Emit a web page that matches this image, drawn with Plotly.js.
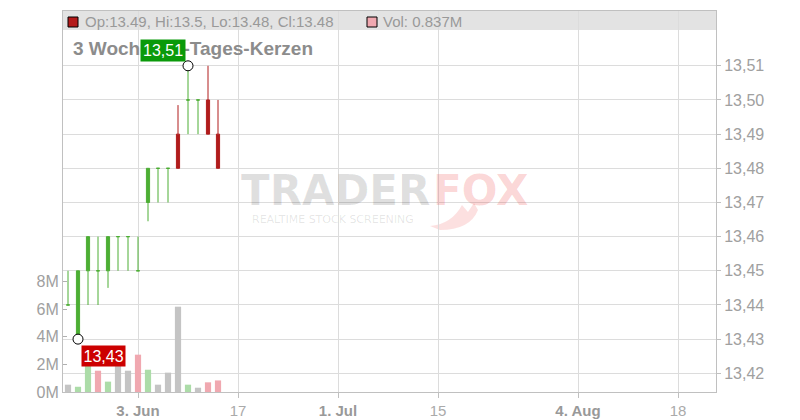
<!DOCTYPE html>
<html><head><meta charset="utf-8">
<script src="https://cdn.plot.ly/plotly-3.0.1.min.js"></script>
<style>html,body{margin:0;padding:0;background:#fff}#chart{width:800px;height:420px}</style>
</head><body><div id="chart"></div>
<script>
// ---- data ----
const dates = ['2025-05-23','2025-05-26','2025-05-27','2025-05-28','2025-05-29','2025-05-30',
               '2025-06-02','2025-06-03','2025-06-04','2025-06-05','2025-06-06',
               '2025-06-09','2025-06-10','2025-06-11','2025-06-12','2025-06-13'];
const openP  = [13.44,13.43,13.45,13.45,13.45,13.46,13.46,13.45,13.47,13.48,13.48,13.49,13.50,13.50,13.50,13.49];
const highP  = [13.45,13.45,13.46,13.46,13.46,13.46,13.46,13.46,13.48,13.48,13.48,13.4985,13.51,13.50,13.51,13.50];
const lowP   = [13.44,13.43,13.44,13.44,13.445,13.45,13.45,13.45,13.4645,13.47,13.47,13.48,13.49,13.49,13.49,13.48];
const closeP = [13.44,13.45,13.46,13.45,13.46,13.46,13.46,13.45,13.48,13.48,13.48,13.48,13.50,13.50,13.49,13.48];
const volumeM = [0.53,0.38,2.8,1.54,0.75,2.4,1.54,2.70,1.61,0.53,1.40,6.17,0.53,0.31,0.70,0.837];

const priceTicks = [13.42,13.43,13.44,13.45,13.46,13.47,13.48,13.49,13.50,13.51];
const volTicks = [0,2,4,6,8];
const volTickText = ['0M','2M','4M','6M','8M'];
const xTickDates = ['2025-06-03','2025-06-17','2025-07-01','2025-07-15','2025-08-04','2025-08-18'];
const xTickText  = ['3. Jun','17','1. Jul','15','4. Aug','18'];
const xTickIsMonth = [true,false,true,false,true,false];

const titleText = '3 Wochen, 1-Tages-Kerzen';
const last = dates.length - 1;
const legendText = 'Op:' + openP[last] + ', Hi:' + highP[last] + ', Lo:' + lowP[last] + ', Cl:' + closeP[last];
const volText = 'Vol: ' + volumeM[last] + 'M';

// ---- colours ----
const GREEN = '#4cae34', RED = '#b01c1c';
const V_GREEN = '#acdca8', V_RED = '#f0a8b0', V_GRAY = '#c4c4c4';

// ---- derived ----
const redIdx = [], greenIdx = [];
closeP.forEach((c,i)=>{ (c < openP[i] ? redIdx : greenIdx).push(i); });
const pick = (arr, idx) => idx.map(i => arr[i]);
const volColors = closeP.map((c,i)=> i===0 ? V_GRAY : (c > closeP[i-1] ? V_GREEN : (c < closeP[i-1] ? V_RED : V_GRAY)));
let hiI = 0, loI = 0;
highP.forEach((h,i)=>{ if (h > highP[hiI]) hiI = i; });
lowP.forEach((l,i)=>{ if (l < lowP[loI]) loI = i; });
const fmt = v => v.toFixed(2).replace('.', ',');

function candle(idx, col) {
  return {
    type:'candlestick', xaxis:'x', yaxis:'y2',
    x: pick(dates, idx), open: pick(openP, idx), high: pick(highP, idx),
    low: pick(lowP, idx), close: pick(closeP, idx),
    increasing:{line:{color:col,width:1}, fillcolor:col},
    decreasing:{line:{color:col,width:1}, fillcolor:col},
    whiskerwidth:0, hoverinfo:'skip', showlegend:false
  };
}

const traces = [
  { type:'bar', x: dates, y: volumeM.map(v=>v*1e6), yaxis:'y', xaxis:'x',
    marker:{color: volColors, line:{width:0}}, width: 0.62*86400000,
    hoverinfo:'skip', showlegend:false },
  candle(greenIdx, GREEN),
  candle(redIdx, RED),
  { type:'scatter', mode:'markers', xaxis:'x', yaxis:'y2',
    x:[dates[hiI], dates[loI]], y:[highP[hiI], lowP[loI]],
    marker:{symbol:'circle', size:10, color:'#ffffff', line:{color:'#000', width:1}},
    hoverinfo:'skip', showlegend:false }
];

// pixel helpers for positioning (plot area 63..716 x 11..392)
const L = 63, R = 716, T = 11, B = 392;
const px = x => (x - L) / (R - L);
const py = y => (B - y) / (B - T);
const P = (x,y) => px(x).toFixed(4) + ',' + py(y).toFixed(4);

const layout = {
  width:800, height:420,
  margin:{l:L, r:800-R, t:T, b:420-B, pad:0},
  paper_bgcolor:'#ffffff', plot_bgcolor:'rgba(0,0,0,0)',
  separators:',.',
  boxgap:0.55,
  showlegend:false,
  font:{family:'"Liberation Sans", Arial, sans-serif', color:'#999'},
  xaxis:{
    type:'date',
    range:['2025-05-22 12:00','2025-08-21 19:12'],
    rangebreaks:[{bounds:['sat','mon']}],
    rangeslider:{visible:false},
    tickvals: xTickDates,
    ticktext: xTickText.map((t,i)=> xTickIsMonth[i] ? '<b>'+t+'</b>' : '<span style="color:#aaa">'+t+'</span>'),
    tickfont:{size:15, color:'#999'},
    showgrid:true, gridcolor:'#dcdcdc', gridwidth:1,
    ticks:'outside', ticklen:5, tickcolor:'#c0c0c0',
    showline:true, linecolor:'#c0c0c0', linewidth:1, mirror:true,
    zeroline:false, fixedrange:true
  },
  yaxis:{
    side:'left', range:[0, 27.56e6],
    tickvals: volTicks.map(v=>v*1e6), ticktext: volTickText,
    tickfont:{size:16, color:'#a0a0a0'},
    showgrid:false, zeroline:false,
    ticks:'inside', ticklen:4, tickcolor:'#b0b0b0',
    showline:true, linecolor:'#c0c0c0', linewidth:1,
    fixedrange:true
  },
  yaxis2:{
    side:'right', overlaying:'y', range:[13.41453, 13.52604],
    tickvals: priceTicks, tickformat:'.2f',
    tickfont:{size:16, color:'#a0a0a0'},
    showgrid:true, gridcolor:'#dcdcdc', gridwidth:1, zeroline:false,
    ticks:'outside', ticklen:4, tickcolor:'#c0c0c0',
    showline:true, linecolor:'#c0c0c0', linewidth:1,
    fixedrange:true
  },
  shapes:[
    {type:'rect', xref:'paper', yref:'paper', x0:0, x1:1, y0:py(30), y1:1,
     fillcolor:'#e3e3e3', line:{width:0}, layer:'below'},
    {type:'rect', xref:'paper', yref:'paper', x0:px(68), x1:px(78), y0:py(27), y1:py(17),
     fillcolor:'#b31a1a', line:{color:'#000', width:1}},
    {type:'rect', xref:'paper', yref:'paper', x0:px(367), x1:px(377), y0:py(27), y1:py(17),
     fillcolor:V_RED, line:{color:'#000', width:1}},
    // fox-tail swoosh of the watermark
    {type:'path', xref:'paper', yref:'paper', layer:'below', line:{width:0},
     fillcolor:'rgba(235,60,60,0.16)',
     path:'M'+P(430,226)+' Q'+P(452,224)+' '+P(462,205)+' L'+P(468,212)+' L'+P(474,203)+' L'+P(478,210)+' Q'+P(470,230)+' '+P(440,230)+' Z'}
  ],
  annotations:[
    {xref:'paper', yref:'paper', x:px(432), y:py(190), xanchor:'right', yanchor:'middle', showarrow:false,
     text:'TRADER',
     font:{family:'"DejaVu Sans", sans-serif', size:42, weight:700, color:'rgba(0,0,0,0.12)'}},
    {xref:'paper', yref:'paper', x:px(431), y:py(190), xanchor:'left', yanchor:'middle', showarrow:false,
     text:'FOX',
     font:{family:'"DejaVu Sans", sans-serif', size:42, weight:700, color:'rgba(235,50,50,0.2)'}},
    {xref:'paper', yref:'paper', x:px(250), y:py(219), xanchor:'left', yanchor:'middle', showarrow:false,
     text:'REALTIME STOCK SCREENING',
     font:{family:'"DejaVu Sans", sans-serif', size:11, color:'rgba(0,0,0,0.11)'}},
    {xref:'paper', yref:'paper', x:px(83), y:py(21), xanchor:'left', yanchor:'middle', showarrow:false,
     text:legendText, font:{size:15, color:'#999'}},
    {xref:'paper', yref:'paper', x:px(381), y:py(21), xanchor:'left', yanchor:'middle', showarrow:false,
     text:volText, font:{size:15, color:'#999'}},
    {xref:'paper', yref:'paper', x:px(71), y:py(48), xanchor:'left', yanchor:'middle', showarrow:false,
     text:'<b>'+titleText+'</b>', font:{size:19, color:'#8c8c8c'}},
    {xref:'x', yref:'y2', x:dates[hiI], y:highP[hiI], xanchor:'right', yanchor:'bottom', showarrow:false,
     xshift:-2, yshift:4, text:fmt(highP[hiI]), bgcolor:'#0a9a0a', borderpad:2,
     font:{size:16, color:'#fff'}},
    {xref:'x', yref:'y2', x:dates[loI], y:lowP[loI], xanchor:'left', yanchor:'top', showarrow:false,
     xshift:3, yshift:-6, text:fmt(lowP[loI]), bgcolor:'#cc0000', borderpad:1.5,
     font:{size:16, color:'#fff'}}
  ]
};

Plotly.newPlot('chart', traces, layout, {staticPlot:true, displayModeBar:false});
</script></body></html>
